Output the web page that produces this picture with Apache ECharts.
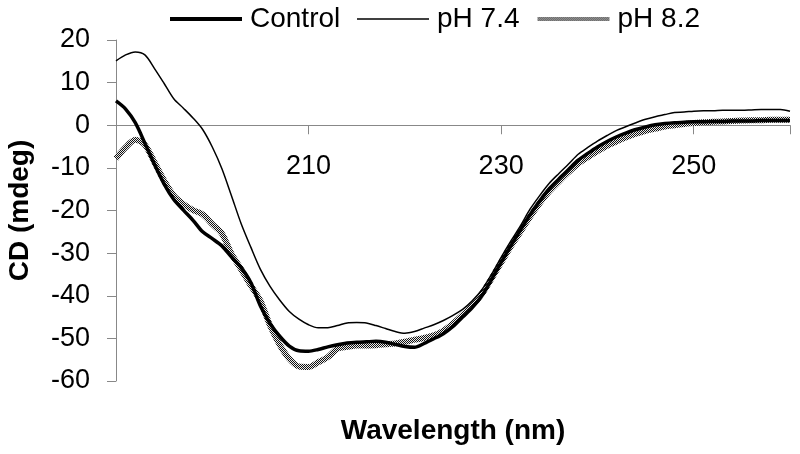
<!DOCTYPE html>
<html>
<head>
<meta charset="utf-8">
<script src="https://cdn.jsdelivr.net/npm/echarts@6/dist/echarts.min.js"></script>
<style>html,body{margin:0;padding:0;background:#fff}#c{width:800px;height:454px}</style>
</head>
<body>
<div id="c"></div>
<script>
const wavelengths = [190,191,192,193,194,195,196,197,198,199,200,201,202,203,204,205,206,207,208,209,210,211,212,213,214,215,216,217,218,219,220,221,222,223,224,225,226,227,228,229,230,231,232,233,234,235,236,237,238,239,240,241,242,243,244,245,246,247,248,249,250,251,252,253,254,255,256,257,258,259,260];
const control = [5.7,3.8,0.6,-4.2,-9.2,-13.8,-17.4,-19.9,-22.3,-25.0,-26.6,-28.3,-30.9,-33.4,-36.9,-42.4,-46.5,-49.5,-51.8,-52.9,-53.0,-52.6,-52.0,-51.5,-51.1,-50.9,-50.8,-50.7,-50.9,-51.4,-51.9,-52.1,-51.2,-50.1,-48.9,-47.2,-45.0,-42.8,-40.0,-36.2,-32.2,-28.3,-24.6,-21.0,-17.8,-14.9,-12.6,-10.4,-8.2,-6.6,-5.1,-3.8,-2.7,-1.8,-1.0,-0.4,0.1,0.4,0.6,0.7,0.8,0.8,0.9,0.9,1.0,1.0,1.0,1.1,1.1,1.1,1.1];
const ph74 = [15.1,16.5,17.2,16.5,13.3,9.8,6.2,4.0,1.7,-1.0,-5.1,-10.2,-16.6,-23.1,-28.6,-33.8,-37.8,-41.0,-43.7,-45.5,-46.8,-47.5,-47.5,-47.0,-46.4,-46.3,-46.4,-47.0,-47.7,-48.4,-48.8,-48.4,-47.6,-46.8,-45.8,-44.6,-43.2,-41.2,-38.6,-35.0,-31.0,-27.2,-23.6,-19.7,-16.5,-13.6,-11.3,-9.1,-6.8,-5.2,-3.7,-2.4,-1.2,-0.3,0.6,1.4,2.0,2.5,3.0,3.1,3.3,3.4,3.4,3.5,3.5,3.5,3.6,3.7,3.7,3.7,3.3];
const ph82 = [-7.8,-5.2,-3.4,-4.6,-8.7,-13.0,-16.5,-18.5,-19.9,-20.9,-23.2,-25.4,-30.2,-33.8,-37.6,-41.2,-47.0,-51.5,-54.8,-56.6,-56.7,-55.6,-54.4,-52.4,-52.0,-51.7,-51.7,-51.6,-51.4,-51.2,-50.8,-50.3,-49.9,-49.3,-48.2,-46.5,-44.5,-42.3,-39.6,-36.0,-32.2,-28.4,-25.0,-21.5,-18.3,-15.5,-13.2,-11.0,-9.0,-7.5,-6.1,-4.8,-3.8,-2.8,-2.0,-1.3,-0.8,-0.3,0.0,0.3,0.5,0.7,0.8,0.9,1.0,1.1,1.2,1.2,1.3,1.3,1.3];
const xTicks = [210, 230, 250];
const yTicks = [-60,-50,-40,-30,-20,-10,0,10,20];
const seriesNames = ['Control', 'pH 7.4', 'pH 8.2'];

function pair(arr){ return wavelengths.map((w,i)=>[w, arr[i]]); }

// checkered pattern for pH 8.2
const pc = document.createElement('canvas');
pc.width = 2; pc.height = 2;
const pctx = pc.getContext('2d');
pctx.fillStyle = '#ececec'; pctx.fillRect(0,0,2,2);
pctx.fillStyle = '#111'; pctx.fillRect(0,0,1,1); pctx.fillRect(1,1,1,1);
const checker = { image: pc, repeat: 'repeat' };

const FONT = '"Liberation Sans", Arial, sans-serif';
const GRID_TOP = 40, GRID_BOTTOM = 73, H = 454;
const plotH = H - GRID_TOP - GRID_BOTTOM;
// distance from the grid bottom up to the y = 0 line, through the y scale
const zeroOffset = plotH * (0 - (-60)) / (20 - (-60));

const chart = echarts.init(document.getElementById('c'), null, {renderer:'canvas'});
chart.setOption({
  animation: false,
  backgroundColor: '#fff',
  grid: { left: 116, right: 10, top: GRID_TOP, bottom: GRID_BOTTOM, containLabel: false, outerBoundsMode: 'none' },
  legend: {
    left: 163, top: 0, itemGap: 16, itemWidth: 72, itemHeight: 14,
    itemStyle: { opacity: 0 },
    textStyle: { fontFamily: FONT, fontSize: 28, color: '#000', padding: [0,0,0,3] },
    data: [
      { name: seriesNames[0], lineStyle: { color: '#000', width: 4 } },
      { name: seriesNames[1], lineStyle: { color: '#000', width: 1.5 } },
      { name: seriesNames[2], lineStyle: { color: checker, width: 4 } }
    ]
  },
  xAxis: {
    type: 'value', min: 190, max: 260, interval: 20,
    offset: -zeroOffset,
    name: 'Wavelength (nm)', nameLocation: 'middle', nameGap: 292,
    nameTextStyle: { fontFamily: FONT, fontSize: 28, fontWeight: 'bold', color: '#000' },
    axisLine: { onZero: false, lineStyle: { color: '#888', width: 1 } },
    axisTick: { show: true, inside: false, length: 9, lineStyle: { color: '#888' } },
    axisLabel: { margin: 28, fontFamily: FONT, fontSize: 27, color: '#000',
      formatter: v => xTicks.includes(v) ? String(v) : '' },
    splitLine: { show: false }
  },
  yAxis: {
    type: 'value', min: -60, max: 20, interval: 10,
    name: 'CD (mdeg)', nameLocation: 'middle', nameGap: 82, nameRotate: 90,
    nameTextStyle: { fontFamily: FONT, fontSize: 28, fontWeight: 'bold', color: '#000' },
    axisLine: { show: true, onZero: false, lineStyle: { color: '#888', width: 1 } },
    axisTick: { show: true, inside: false, length: 9, lineStyle: { color: '#888' } },
    axisLabel: { margin: 26, fontFamily: FONT, fontSize: 27, color: '#000',
      formatter: v => yTicks.includes(v) ? String(v) : '' },
    splitLine: { show: false }
  },
  series: [
    { name: seriesNames[0], type: 'line', data: pair(control), symbol: 'none', smooth: 0.3,
      lineStyle: { color: '#000', width: 3.5 }, itemStyle: { color: '#000' }, z: 4 },
    { name: seriesNames[1], type: 'line', data: pair(ph74), symbol: 'none', smooth: 0.3,
      lineStyle: { color: '#000', width: 1.5 }, itemStyle: { color: '#000' }, z: 5 },
    { name: seriesNames[2], type: 'line', data: pair(ph82), symbol: 'none', smooth: 0.3,
      lineStyle: { color: checker, width: 6 }, itemStyle: { color: checker }, z: 3 }
  ]
});
</script>
</body>
</html>
